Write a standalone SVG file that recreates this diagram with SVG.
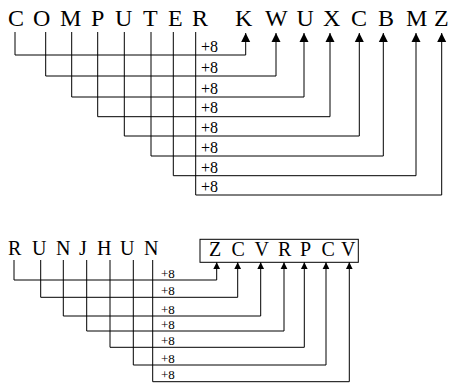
<svg xmlns="http://www.w3.org/2000/svg" width="450" height="385" viewBox="0 0 450 385">
<defs>
<marker id="a1" viewBox="0 0 10 10" refX="10" refY="5" markerWidth="9" markerHeight="10" markerUnits="userSpaceOnUse" orient="auto"><path d="M0,0L10,5L0,10z" fill="#000"/></marker>
<marker id="a2" viewBox="0 0 10 10" refX="10" refY="5" markerWidth="7" markerHeight="9" markerUnits="userSpaceOnUse" orient="auto"><path d="M0,0L10,5L0,10z" fill="#000"/></marker>
</defs>
<g id="source1">
<text font-family="Liberation Serif, serif" font-size="24" x="8">
<tspan x="8" y="26">C</tspan><tspan x="33" y="26">O</tspan><tspan x="60" y="26">M</tspan><tspan x="91" y="26">P</tspan><tspan x="115" y="26">U</tspan><tspan x="143" y="26">T</tspan><tspan x="168" y="26">E</tspan><tspan x="192" y="26">R</tspan></text>
</g>
<g id="result1">
<text font-family="Liberation Serif, serif" font-size="24">
<tspan x="235" y="26">K</tspan><tspan x="265" y="26">W</tspan><tspan x="296.5" y="26">U</tspan><tspan x="323" y="26">X</tspan><tspan x="351" y="26">C</tspan><tspan x="378" y="26">B</tspan><tspan x="406" y="26">M</tspan><tspan x="434" y="26">Z</tspan></text>
</g>
<g id="labels1" font-family="Liberation Serif, serif" font-size="16">
<text font-family="Liberation Serif, serif" x="201" y="52">+8</text>
<text font-family="Liberation Serif, serif" x="201" y="73">+8</text>
<text font-family="Liberation Serif, serif" x="201" y="93.5">+8</text>
<text font-family="Liberation Serif, serif" x="201" y="113">+8</text>
<text font-family="Liberation Serif, serif" x="201" y="133">+8</text>
<text font-family="Liberation Serif, serif" x="201" y="153">+8</text>
<text font-family="Liberation Serif, serif" x="201" y="172.5">+8</text>
<text font-family="Liberation Serif, serif" x="201" y="192">+8</text>
</g>
<g id="connectors1" fill="none" stroke="#000" stroke-width="1">
<path marker-end="url(#a1)" d="M15,32V55H245.7V33"/>
<path marker-end="url(#a1)" d="M45.7,32V76H276V33"/>
<path marker-end="url(#a1)" d="M71.7,32V97H304V33"/>
<path marker-end="url(#a1)" d="M97.7,32V116.7H330V33"/>
<path marker-end="url(#a1)" d="M124.3,32V136H359.3V33"/>
<path marker-end="url(#a1)" d="M151,32V156H383.3V33"/>
<path marker-end="url(#a1)" d="M173.3,32V175.7H416V33"/>
<path marker-end="url(#a1)" d="M195.7,32V195H441.7V33"/>
</g>
<g id="source2">
<text font-family="Liberation Serif, serif" font-size="20">
<tspan x="8" y="255">R</tspan><tspan x="32" y="255">U</tspan><tspan x="56" y="255">N</tspan><tspan x="79" y="255">J</tspan><tspan x="97" y="255">H</tspan><tspan x="120" y="255">U</tspan><tspan x="144" y="255">N</tspan></text>
</g>
<g id="result2">
<rect x="200" y="239.3" width="158.3" height="23" fill="none" stroke="#000" stroke-width="1"/>
<text font-family="Liberation Serif, serif" font-size="20">
<tspan x="209" y="256">Z</tspan><tspan x="231.5" y="256">C</tspan><tspan x="254.5" y="256">V</tspan><tspan x="278" y="256">R</tspan><tspan x="300" y="256">P</tspan><tspan x="321.5" y="256">C</tspan><tspan x="341" y="256">V</tspan></text>
</g>
<g id="labels2">
<text font-family="Liberation Serif, serif" font-size="13" x="161" y="277.5">+8</text>
<text font-family="Liberation Serif, serif" font-size="13" x="161" y="295">+8</text>
<text font-family="Liberation Serif, serif" font-size="13" x="161" y="313.5">+8</text>
<text font-family="Liberation Serif, serif" font-size="13" x="161" y="328.5">+8</text>
<text font-family="Liberation Serif, serif" font-size="13" x="161" y="345">+8</text>
<text font-family="Liberation Serif, serif" font-size="13" x="161" y="362.5">+8</text>
<text font-family="Liberation Serif, serif" font-size="13" x="161" y="379">+8</text>
</g>
<g id="connectors2" fill="none" stroke="#000" stroke-width="1">
<path marker-end="url(#a2)" d="M14,260V280H216.7V262.3"/>
<path marker-end="url(#a2)" d="M40.7,260V297.3H237.7V262.3"/>
<path marker-end="url(#a2)" d="M63.3,260V316H260.7V262.3"/>
<path marker-end="url(#a2)" d="M86.7,260V331H284V262.3"/>
<path marker-end="url(#a2)" d="M110,260V347.3H304.3V262.3"/>
<path marker-end="url(#a2)" d="M133.3,260V365H326V262.3"/>
<path marker-end="url(#a2)" d="M152.7,260V381.7H349.3V262.3"/>
</g>
</svg>
